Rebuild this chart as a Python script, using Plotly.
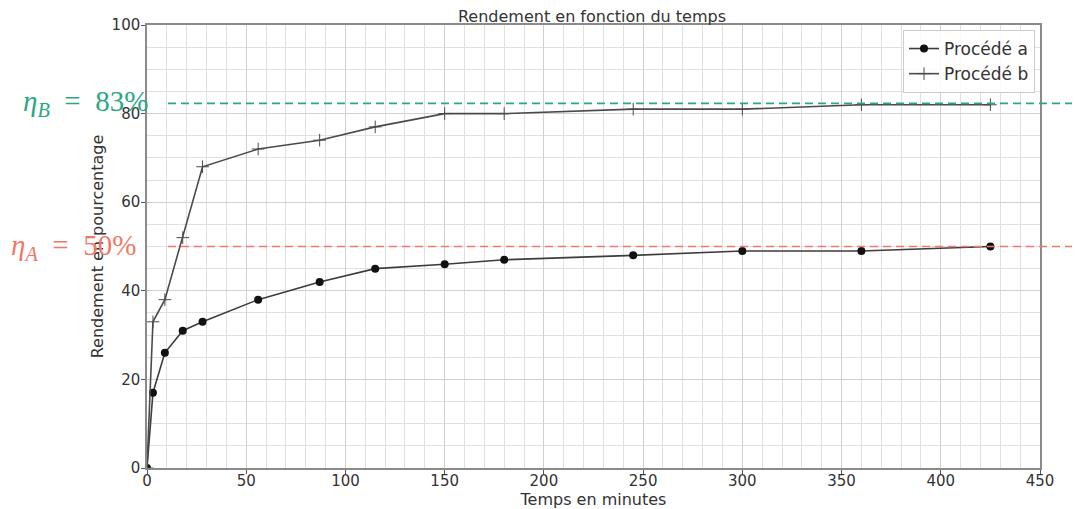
import plotly.graph_objects as go

temps = [0, 3, 9, 18, 28, 56, 87, 115, 150, 180, 245, 300, 360, 425]
rendement_a = [0, 17, 26, 31, 33, 38, 42, 45, 46, 47, 48, 49, 49, 50]
rendement_b = [0, 33, 38, 52, 68, 72, 74, 77, 80, 80, 81, 81, 82, 82]
eta_a = 50
eta_b = 82.3
x_ticks = [0, 50, 100, 150, 200, 250, 300, 350, 400, 450]
y_ticks = [0, 20, 40, 60, 80, 100]

OFF = 8  # page body offset
L, R, T, B = 147 - OFF, 48, 25 - OFF, 49
W, H = 1080, 509
pw = W - L - R
ph = H - T - B

def px2paper(px):
    return (px - OFF - L) / pw

def py2paper(py):
    return 1 - (py - OFF - T) / ph

fig = go.Figure()
fig.add_trace(go.Scatter(x=temps, y=rendement_a, mode="lines+markers", name="Procédé a",
                         line=dict(color="#3c3c3c", width=1.6),
                         marker=dict(symbol="circle", size=8, color="#111111")))
fig.add_trace(go.Scatter(x=temps, y=rendement_b, mode="lines+markers", name="Procédé b",
                         line=dict(color="#4a4a4a", width=1.6),
                         marker=dict(symbol="cross-thin", size=9, color="#4a4a4a",
                                     line=dict(color="#4a4a4a", width=1))))

for yv, col in [(eta_b, "#2aa882"), (eta_a, "#f07868")]:
    fig.add_shape(type="line", xref="paper", yref="y", x0=px2paper(168), x1=px2paper(1090),
                  y0=yv, y1=yv, line=dict(color=col, width=1.6, dash="8px,5px"), layer="above")

sp = "&nbsp;&nbsp;"
fig.add_annotation(xref="paper", yref="y", x=px2paper(21), y=eta_b, xanchor="left", yanchor="middle",
                   text="<i>η</i><sub><i>B</i></sub>" + sp + "=" + sp + "83%", showarrow=False,
                   font=dict(family="Liberation Serif", size=29, color="#2aa882"))
fig.add_annotation(xref="paper", yref="y", x=px2paper(9), y=eta_a, xanchor="left", yanchor="middle",
                   text="<i>η</i><sub><i>A</i></sub>" + sp + "=" + sp + "50%", showarrow=False,
                   font=dict(family="Liberation Serif", size=29, color="#f07868"))

axis_common = dict(showline=True, linecolor="#8a8a8a", linewidth=1.5, mirror=True,
                   ticks="outside", tickcolor="#555", ticklen=4,
                   tickfont=dict(family="DejaVu Sans", size=15, color="#333"),
                   zeroline=False, gridcolor="#d0d0d0", gridwidth=1, automargin=False)

fig.update_xaxes(range=[0, 450], tickvals=x_ticks, ticklabelstandoff=-6,
                 title=dict(text="Temps en minutes", standoff=3,
                            font=dict(family="DejaVu Sans", size=16, color="#333")),
                 minor=dict(dtick=10, showgrid=True, gridcolor="#e0e0e0", gridwidth=1), **axis_common)
fig.update_yaxes(range=[0, 100], tickvals=y_ticks, ticklabelstandoff=-2,
                 title=dict(text="Rendement en pourcentage", standoff=4,
                            font=dict(family="DejaVu Sans", size=16, color="#333")),
                 minor=dict(dtick=5, showgrid=True, gridcolor="#e0e0e0", gridwidth=1), **axis_common)

fig.update_layout(
    width=W, height=H,
    margin=dict(l=L, r=R, t=T, b=B),
    plot_bgcolor="white", paper_bgcolor="white",
    title=dict(text="Rendement en fonction du temps", x=(592 - OFF) / W,
               xanchor="center", y=1 - (16 - OFF) / H, yanchor="middle",
               font=dict(family="DejaVu Sans", size=16, color="#333")),
    legend=dict(x=px2paper(1035), y=py2paper(30), xanchor="right", yanchor="top",
                bgcolor="rgba(255,255,255,0.85)", bordercolor="#cccccc", borderwidth=1,
                font=dict(family="DejaVu Sans", size=17, color="#333")),
    showlegend=True,
)

fig.write_html("out.html")
